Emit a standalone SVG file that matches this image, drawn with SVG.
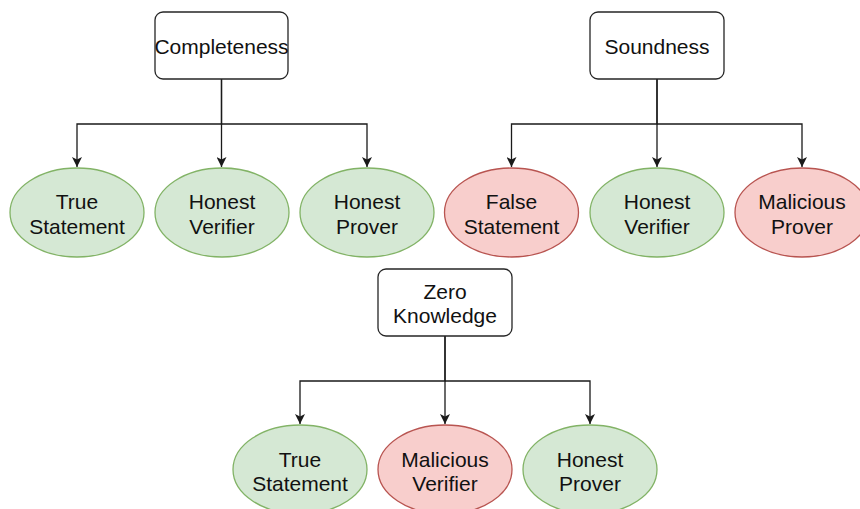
<svg xmlns="http://www.w3.org/2000/svg" width="860" height="509" viewBox="0 0 860 509">
  <style>
    .box { fill: #ffffff; stroke: #262626; stroke-width: 1.3; }
    .good { fill: #d5e8d4; stroke: #82b366; stroke-width: 1.3; }
    .bad { fill: #f8cecc; stroke: #b85450; stroke-width: 1.3; }
    .edge { fill: none; stroke: #1a1a1a; stroke-width: 1.3; }
    text { font-family: "Liberation Sans", Arial, sans-serif; font-size: 21px; fill: #111111; text-anchor: middle; }
  </style>
  <defs>
    <marker id="arrow" viewBox="0 0 10 10" refX="10" refY="5" markerWidth="10" markerHeight="10" markerUnits="userSpaceOnUse" orient="auto">
      <path d="M0,0 L10,5 L0,10 L2.5,5 Z" fill="#1a1a1a"/>
    </marker>
  </defs>

  <!-- connectors -->
  <g id="connectors">
    <path class="edge" d="M221.5,79 V124 H77 V167" marker-end="url(#arrow)"/>
    <path class="edge" d="M221.5,79 V167" marker-end="url(#arrow)"/>
    <path class="edge" d="M221.5,124 H367 V167" marker-end="url(#arrow)"/>

    <path class="edge" d="M657,79 V124 H511.5 V167" marker-end="url(#arrow)"/>
    <path class="edge" d="M657,79 V167" marker-end="url(#arrow)"/>
    <path class="edge" d="M657,124 H802 V167" marker-end="url(#arrow)"/>

    <path class="edge" d="M445,336 V381 H300 V424" marker-end="url(#arrow)"/>
    <path class="edge" d="M445,336 V424" marker-end="url(#arrow)"/>
    <path class="edge" d="M445,381 H590 V424" marker-end="url(#arrow)"/>
  </g>

  <!-- Completeness -->
  <g id="completeness">
    <rect class="box" x="155" y="12" width="133" height="67" rx="8"/>
    <text x="221.5" y="54">Completeness</text>
  </g>
  <g id="c-true-statement">
    <ellipse class="good" cx="77" cy="212.5" rx="67" ry="44.5"/>
    <text x="77" y="208.5">True</text>
    <text x="77" y="233.5">Statement</text>
  </g>
  <g id="c-honest-verifier">
    <ellipse class="good" cx="222" cy="212.5" rx="67" ry="44.5"/>
    <text x="222" y="208.5">Honest</text>
    <text x="222" y="233.5">Verifier</text>
  </g>
  <g id="c-honest-prover">
    <ellipse class="good" cx="367" cy="212.5" rx="67" ry="44.5"/>
    <text x="367" y="208.5">Honest</text>
    <text x="367" y="233.5">Prover</text>
  </g>

  <!-- Soundness -->
  <g id="soundness">
    <rect class="box" x="590" y="12" width="134" height="67" rx="8"/>
    <text x="657" y="54">Soundness</text>
  </g>
  <g id="s-false-statement">
    <ellipse class="bad" cx="511.5" cy="212.5" rx="67" ry="44.5"/>
    <text x="511.5" y="208.5">False</text>
    <text x="511.5" y="233.5">Statement</text>
  </g>
  <g id="s-honest-verifier">
    <ellipse class="good" cx="657" cy="212.5" rx="67" ry="44.5"/>
    <text x="657" y="208.5">Honest</text>
    <text x="657" y="233.5">Verifier</text>
  </g>
  <g id="s-malicious-prover">
    <ellipse class="bad" cx="802" cy="212.5" rx="67" ry="44.5"/>
    <text x="802" y="208.5">Malicious</text>
    <text x="802" y="233.5">Prover</text>
  </g>

  <!-- Zero Knowledge -->
  <g id="zero-knowledge">
    <rect class="box" x="378" y="269" width="134" height="67" rx="8"/>
    <text x="445" y="298.5">Zero</text>
    <text x="445" y="323">Knowledge</text>
  </g>
  <g id="z-true-statement">
    <ellipse class="good" cx="300" cy="469.5" rx="67" ry="44.5"/>
    <text x="300" y="467">True</text>
    <text x="300" y="491">Statement</text>
  </g>
  <g id="z-malicious-verifier">
    <ellipse class="bad" cx="445" cy="469.5" rx="67" ry="44.5"/>
    <text x="445" y="467">Malicious</text>
    <text x="445" y="491">Verifier</text>
  </g>
  <g id="z-honest-prover">
    <ellipse class="good" cx="590" cy="469.5" rx="67" ry="44.5"/>
    <text x="590" y="467">Honest</text>
    <text x="590" y="491">Prover</text>
  </g>
</svg>
